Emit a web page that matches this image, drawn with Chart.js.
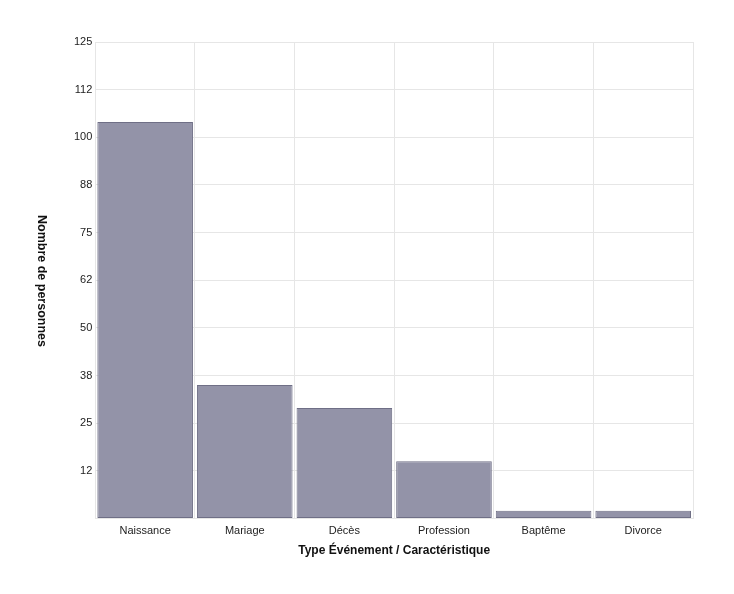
<!DOCTYPE html>
<html>
<head>
<meta charset="utf-8">
<script src="https://cdn.jsdelivr.net/npm/chart.js@4"></script>
<style>
  body { margin: 0; background: #fff; }
  #wrap { position: relative; width: 734px; height: 594px; }
  #titreY {
    position: absolute; left: 35px; top: 215px;
    writing-mode: vertical-rl;
    font: bold 12.5px "Liberation Sans", Arial, sans-serif;
    color: #111;
  }
</style>
</head>
<body>
<div id="wrap">
  <canvas id="graphique" width="734" height="594"></canvas>
  <div id="titreY">Nombre de personnes</div>
</div>
<script>
const categories = ['Naissance', 'Mariage', 'Décès', 'Profession', 'Baptême', 'Divorce'];
const valeurs = [104, 35, 29, 15, 2, 2];
const etiquettesY = ['', '12', '25', '38', '50', '62', '75', '88', '100', '112', '125'];

const ctx = document.getElementById('graphique').getContext('2d');
new Chart(ctx, {
  type: 'bar',
  data: {
    labels: categories,
    datasets: [{
      data: valeurs,
      backgroundColor: '#9393a8',
      borderColor: '#6f6f86',
      borderWidth: 1,
      borderSkipped: false,
      barPercentage: 0.96,
      categoryPercentage: 1
    }]
  },
  options: {
    responsive: false,
    animation: false,
    layout: { padding: { left: 71, top: 42, right: 41, bottom: 32 } },
    plugins: { legend: { display: false }, tooltip: { enabled: false } },
    scales: {
      x: {
        grid: { color: '#e6e6e6', drawTicks: false, offset: true },
        border: { color: '#e6e6e6' },
        ticks: { color: '#222', font: { family: 'Liberation Sans', size: 11 }, padding: 6 },
        title: {
          display: true,
          text: 'Type Événement / Caractéristique',
          color: '#111',
          font: { family: 'Liberation Sans', size: 12, weight: 'bold' },
          padding: { top: 0 }
        }
      },
      y: {
        min: 0,
        max: 125,
        grid: { color: '#e6e6e6', drawTicks: false },
        border: { color: '#e6e6e6' },
        ticks: {
          stepSize: 12.5,
          color: '#222',
          font: { family: 'Liberation Sans', size: 11 },
          padding: 3,
          callback: (v, i) => etiquettesY[i]
        }
      }
    }
  }
});
</script>
</body>
</html>
